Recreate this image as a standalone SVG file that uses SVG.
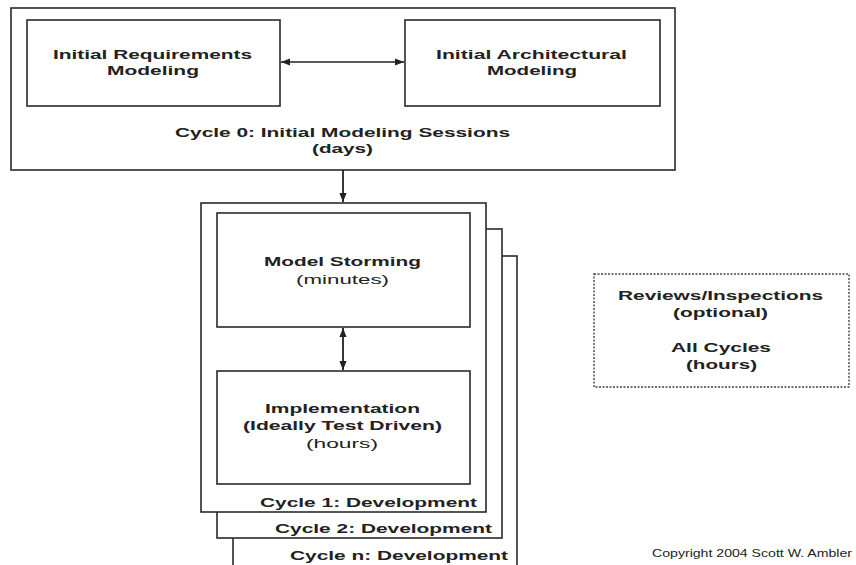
<svg xmlns="http://www.w3.org/2000/svg" width="856" height="565" viewBox="0 0 856 565">
<style>
.box{fill:#fff;stroke:#2a2a2a;stroke-width:1.6}
.t{font-family:"Liberation Sans",Arial,sans-serif;font-weight:bold;font-size:12px;fill:#222;text-anchor:start}
.n{font-weight:normal}
.c{font-family:"Liberation Sans",Arial,sans-serif;font-size:10.5px;fill:#222}
.dash{fill:#fff;stroke:#444;stroke-width:1.4;stroke-dasharray:2 1.5}
.conn{stroke:#222;stroke-width:1.3;fill:none}
.thick{stroke-width:1.8}
</style>
<defs>
<marker id="ah" viewBox="0 0 10 10" refX="10" refY="5" markerWidth="9" markerHeight="9" markerUnits="userSpaceOnUse" orient="auto-start-reverse">
<path d="M0,1 L10,5 L0,9 z" fill="#222"/>
</marker>
</defs>
<rect width="856" height="565" fill="#fff"/>
<g id="cycle0">
<rect class="box" x="11" y="8" width="664" height="162"/>
<text class="t" x="175" y="137" textLength="335" lengthAdjust="spacingAndGlyphs">Cycle 0: Initial Modeling Sessions</text>
<text class="t" x="312" y="153" textLength="61" lengthAdjust="spacingAndGlyphs">(days)</text>
</g>
<g id="req">
<rect class="box" x="27" y="20" width="253" height="86"/>
<text class="t" x="53" y="59" textLength="199" lengthAdjust="spacingAndGlyphs">Initial Requirements</text>
<text class="t" x="107" y="75" textLength="92" lengthAdjust="spacingAndGlyphs">Modeling</text>
</g>
<g id="arch">
<rect class="box" x="405" y="20" width="255" height="86"/>
<text class="t" x="436" y="59" textLength="191" lengthAdjust="spacingAndGlyphs">Initial Architectural</text>
<text class="t" x="487" y="75" textLength="90" lengthAdjust="spacingAndGlyphs">Modeling</text>
</g>
<g id="cyclen">
<rect class="box" x="233" y="256" width="284" height="320"/>
<text class="t" x="290" y="560" textLength="218" lengthAdjust="spacingAndGlyphs">Cycle n: Development</text>
</g>
<g id="cycle2">
<rect class="box" x="217" y="229" width="285" height="309"/>
<text class="t" x="275" y="533" textLength="217" lengthAdjust="spacingAndGlyphs">Cycle 2: Development</text>
</g>
<g id="cycle1">
<rect class="box" x="201" y="203" width="285" height="309"/>
<text class="t" x="260" y="507" textLength="217" lengthAdjust="spacingAndGlyphs">Cycle 1: Development</text>
</g>
<g id="storm">
<rect class="box" x="217" y="213" width="253" height="114"/>
<text class="t" x="264" y="266" textLength="157" lengthAdjust="spacingAndGlyphs">Model Storming</text>
<text class="t n" x="296" y="284" textLength="93" lengthAdjust="spacingAndGlyphs">(minutes)</text>
</g>
<g id="impl">
<rect class="box" x="217" y="371" width="253" height="113"/>
<text class="t" x="265" y="413" textLength="155" lengthAdjust="spacingAndGlyphs">Implementation</text>
<text class="t" x="243" y="430" textLength="199" lengthAdjust="spacingAndGlyphs">(Ideally Test Driven)</text>
<text class="t n" x="306" y="448" textLength="72" lengthAdjust="spacingAndGlyphs">(hours)</text>
</g>
<g id="reviews">
<rect class="dash" x="594" y="274" width="255" height="113"/>
<text class="t" x="618" y="300" textLength="205" lengthAdjust="spacingAndGlyphs">Reviews/Inspections</text>
<text class="t" x="673" y="317" textLength="95" lengthAdjust="spacingAndGlyphs">(optional)</text>
<text class="t" x="671" y="352" textLength="100" lengthAdjust="spacingAndGlyphs">All Cycles</text>
<text class="t" x="686" y="369" textLength="71" lengthAdjust="spacingAndGlyphs">(hours)</text>
</g>
<g id="connectors">
<line class="conn" x1="281" y1="62" x2="404" y2="62" marker-start="url(#ah)" marker-end="url(#ah)"/>
<line class="conn thick" x1="343" y1="170" x2="343" y2="202" marker-end="url(#ah)"/>
<line class="conn thick" x1="343" y1="328" x2="343" y2="370" marker-start="url(#ah)" marker-end="url(#ah)"/>
</g>
<text class="c" x="652" y="557" textLength="200" lengthAdjust="spacingAndGlyphs">Copyright 2004 Scott W. Ambler</text>
</svg>
